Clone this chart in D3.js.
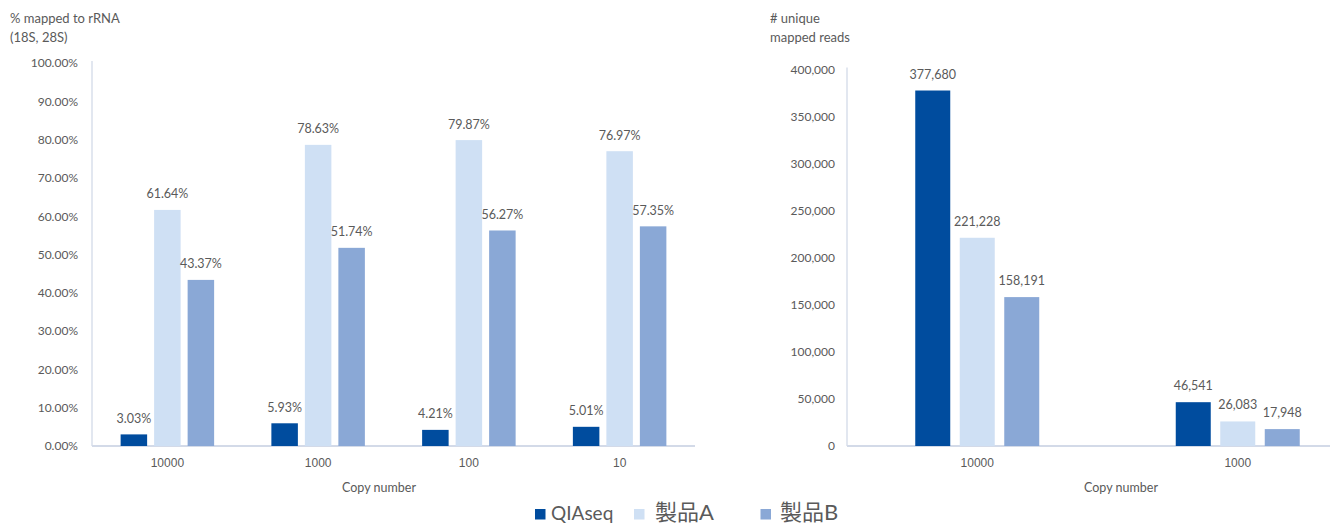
<!DOCTYPE html>
<html>
<head>
<meta charset="utf-8">
<script src="https://cdn.jsdelivr.net/npm/d3@7/dist/d3.min.js"></script>
<style>
  html, body { margin: 0; padding: 0; background: #fff; }
  svg { display: block; font-family: Lato, "Noto Sans", "Noto Sans CJK JP", sans-serif; }
</style>
</head>
<body>
<svg id="chart" width="1330" height="525"></svg>
<script>
const seriesNames = ["QIAseq", "製品A", "製品B"];
const seriesColors = ["#004c9e", "#cfe0f4", "#8aa8d6"];

const leftCategories = ["10000", "1000", "100", "10"];
const leftQIAseq = [3.03, 5.93, 4.21, 5.01];
const leftA = [61.64, 78.63, 79.87, 76.97];
const leftB = [43.37, 51.74, 56.27, 57.35];
const leftTicks = [0, 10, 20, 30, 40, 50, 60, 70, 80, 90, 100];

const rightCategories = ["10000", "1000"];
const rightQIAseq = [377680, 46541];
const rightA = [221228, 26083];
const rightB = [158191, 17948];
const rightTicks = [0, 50000, 100000, 150000, 200000, 250000, 300000, 350000, 400000];

const svg = d3.select("#chart");
const textColor = "#5a5a5a";
const axisColor = "#d3dae8";

function drawPanel(opts) {
  const { cats, series, ticks, yMax, x0, x1, yTop, yBottom, tickFmt, labelFmt,
          barW, gap, xTitleX, titleLines, titleX } = opts;
  const x = d3.scaleBand().domain(cats).range([x0, x1]).paddingInner(0).paddingOuter(0);
  const y = d3.scaleLinear().domain([0, yMax]).range([yBottom, yTop]);
  const g = svg.append("g");

  // y axis
  const yAxis = d3.axisLeft(y).tickValues(ticks).tickSize(0).tickPadding(opts.tickPad).tickFormat(tickFmt);
  const ya = g.append("g").attr("transform", `translate(${x0},0)`).call(yAxis);
  ya.select(".domain").attr("stroke", axisColor).attr("stroke-width", 1.3)
    .attr("d", `M0,${yTop - 2}V${yBottom}`);
  ya.selectAll("text").attr("fill", textColor).attr("font-size", 12).style("font-family", "Lato, sans-serif");

  // x axis
  const xAxis = d3.axisBottom(x).tickSize(0).tickPadding(12);
  const xa = g.append("g").attr("transform", `translate(0,${yBottom})`).call(xAxis);
  xa.select(".domain").attr("stroke", axisColor).attr("stroke-width", 2)
    .attr("d", `M${x0},0H${opts.axisEnd}`);
  xa.selectAll("text").attr("fill", textColor).attr("font-size", 12);

  const groupW = series.length * barW + (series.length - 1) * gap;
  series.forEach((vals, si) => {
    const data = cats.map((c, i) => ({ c, v: vals[i] }));
    const bx = d => x(d.c) + x.bandwidth() / 2 - groupW / 2 + si * (barW + gap);
    g.selectAll(null).data(data).enter().append("rect")
      .attr("x", bx).attr("width", barW)
      .attr("y", d => y(d.v)).attr("height", d => y(0) - y(d.v))
      .attr("fill", seriesColors[si]);
    g.selectAll(null).data(data).enter().append("text")
      .attr("x", d => bx(d) + barW / 2).attr("y", d => y(d.v) - opts.labelOff)
      .attr("text-anchor", "middle").attr("fill", textColor).attr("font-size", 12.5)
      .text(d => labelFmt(d.v));
  });

  g.append("text").attr("x", xTitleX).attr("y", yBottom + 46).attr("text-anchor", "middle")
    .attr("fill", textColor).attr("font-size", 12.5).text("Copy number");

  titleLines.forEach((t, i) => {
    g.append("text").attr("x", titleX).attr("y", 23 + i * 19).attr("fill", textColor)
      .attr("font-size", 13).text(t);
  });
}

drawPanel({
  cats: leftCategories, series: [leftQIAseq, leftA, leftB], ticks: leftTicks, yMax: 100,
  x0: 92, x1: 695, axisEnd: 695, yTop: 63, yBottom: 446, tickPad: 14,
  tickFmt: d => d.toFixed(2) + "%", labelFmt: v => v.toFixed(2) + "%",
  barW: 26.5, gap: 7, xTitleX: 379, titleLines: ["% mapped to rRNA", "(18S, 28S)"], titleX: 10,
  labelOff: 11.5
});

drawPanel({
  cats: rightCategories, series: [rightQIAseq, rightA, rightB], ticks: rightTicks, yMax: 400000,
  x0: 847, x1: 1368, axisEnd: 1330, yTop: 69.5, yBottom: 446, tickPad: 12,
  tickFmt: d3.format(","), labelFmt: d3.format(","),
  barW: 35, gap: 9.5, xTitleX: 1121, titleLines: ["# unique", "mapped reads"], titleX: 770,
  labelOff: 12
});

// legend
const legendItems = [
  { name: seriesNames[0], color: seriesColors[0], sx: 535, tx: 551, fs: 19 },
  { name: seriesNames[1], color: seriesColors[1], sx: 634, tx: 655, fs: 22 },
  { name: seriesNames[2], color: seriesColors[2], sx: 760.5, tx: 780, fs: 22 }
];
const lg = svg.append("g");
lg.selectAll(null).data(legendItems).enter().append("rect")
  .attr("x", d => d.sx).attr("y", 509).attr("width", 10.5).attr("height", 10.5)
  .attr("fill", d => d.color);
lg.selectAll(null).data(legendItems).enter().append("text")
  .attr("x", d => d.tx).attr("y", 520).attr("fill", textColor)
  .attr("font-size", d => d.fs)
  .style("font-family", "Lato, 'Noto Sans CJK JP', sans-serif")
  .text(d => d.name);
</script>
</body>
</html>
